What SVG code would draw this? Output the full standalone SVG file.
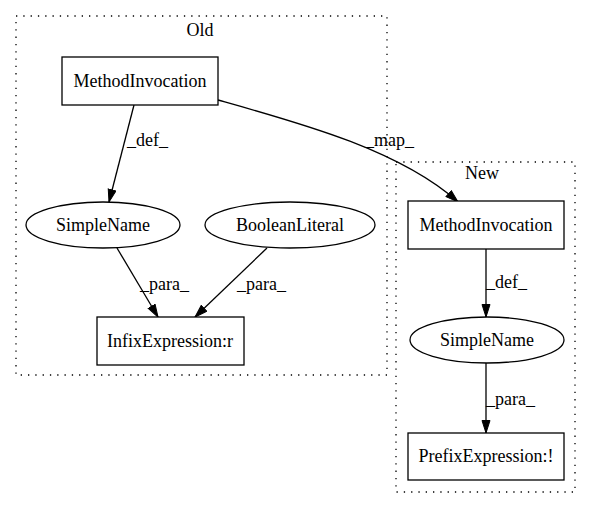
<svg xmlns="http://www.w3.org/2000/svg" width="592" height="508" viewBox="0 0 592 508">
<style>
text{font-family:"Liberation Serif","Times New Roman",Times,serif;font-size:18px;fill:#000}
.c{text-anchor:middle}
.cl{fill:none;stroke:#000;stroke-width:1.3;stroke-dasharray:1.3,6}
.n{fill:#fff;stroke:#000;stroke-width:1.3}
.e{fill:none;stroke:#000;stroke-width:1.3}
</style>
<defs>
<marker id="ah" markerUnits="userSpaceOnUse" markerWidth="14" markerHeight="11" refX="13" refY="4.5" orient="auto">
<path d="M0.5,0.5 L13,4.5 L0.5,8.5 Z" fill="#000" stroke="#000" stroke-width="1"/>
</marker>
</defs>
<rect width="592" height="508" fill="#fff"/>
<g id="cluster_old">
<rect class="cl" x="16" y="16" width="371" height="359"/>
<text class="c" x="200" y="36">Old</text>
</g>
<g id="cluster_new">
<rect class="cl" x="396" y="162" width="179" height="330"/>
<text class="c" x="482" y="179">New</text>
</g>
<g id="connectors">
<path class="e" d="M134,105 L109,202" marker-end="url(#ah)"/>
<text x="127" y="146">_def_</text>
<path class="e" d="M218,100 C300,123 400,150 458,202" marker-end="url(#ah)"/>
<text x="365" y="146">_map_</text>
<path class="e" d="M117,248 L158,317" marker-end="url(#ah)"/>
<text x="140" y="290">_para_</text>
<path class="e" d="M267,248 L195,317" marker-end="url(#ah)"/>
<text x="237" y="290">_para_</text>
<path class="e" d="M486,249 L486,317" marker-end="url(#ah)"/>
<text x="486" y="288">_def_</text>
<path class="e" d="M486,363 L486,433" marker-end="url(#ah)"/>
<text x="486" y="405">_para_</text>
</g>
<g id="old_methodinvocation">
<rect class="n" x="62" y="57" width="156" height="48"/>
<text class="c" x="140" y="87">MethodInvocation</text>
</g>
<g id="old_simplename">
<ellipse class="n" cx="103" cy="225" rx="77" ry="23"/>
<text class="c" x="103" y="231">SimpleName</text>
</g>
<g id="old_booleanliteral">
<ellipse class="n" cx="290" cy="225" rx="85" ry="23"/>
<text class="c" x="290" y="231">BooleanLiteral</text>
</g>
<g id="old_infix">
<rect class="n" x="97" y="317" width="147" height="48"/>
<text class="c" x="170" y="347">InfixExpression:r</text>
</g>
<g id="new_methodinvocation">
<rect class="n" x="408" y="201" width="156" height="48"/>
<text class="c" x="486" y="231">MethodInvocation</text>
</g>
<g id="new_simplename">
<ellipse class="n" cx="487" cy="340" rx="77" ry="23"/>
<text class="c" x="487" y="346">SimpleName</text>
</g>
<g id="new_prefix">
<rect class="n" x="408" y="433" width="156" height="47"/>
<text class="c" x="486" y="462">PrefixExpression:!</text>
</g>
</svg>
